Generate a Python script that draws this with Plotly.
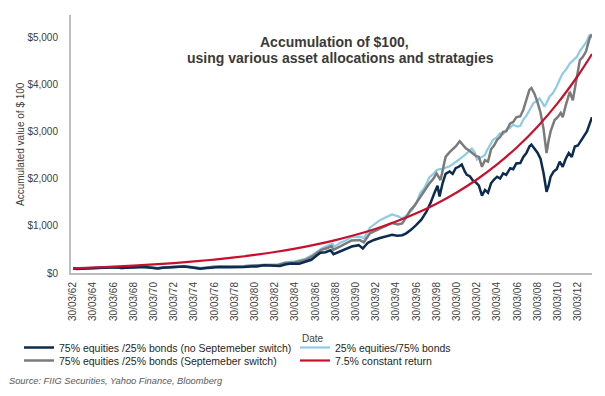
import plotly.graph_objects as go

# ---------------- data ----------------
tick_years = [1962, 1964, 1966, 1968, 1970, 1972, 1974, 1976, 1978, 1980, 1982, 1984, 1986,
              1988, 1990, 1992, 1994, 1996, 1998, 2000, 2002, 2004, 2006, 2008, 2010, 2012]
tick_labels = ["30/03/62", "30/03/64", "30/03/66", "30/03/68", "30/03/70", "30/03/72", "30/03/74",
               "30/03/76", "30/03/78", "30/03/80", "30/03/82", "30/03/84", "30/03/86", "30/03/88",
               "30/03/90", "30/03/92", "30/03/94", "30/03/96", "30/03/98", "30/03/00", "30/03/02",
               "30/03/04", "30/03/06", "30/03/08", "30/03/10", "30/03/12"]
y_tick_vals = [0, 1000, 2000, 3000, 4000, 5000]
y_tick_text = ["$0", "$1,000", "$2,000", "$3,000", "$4,000", "$5,000"]

navy_years = [1962.0, 1962.4, 1962.8, 1963.5, 1964.5, 1965.5, 1966.3, 1966.8, 1967.5, 1968.3, 1968.9,
              1969.6, 1970.4, 1970.9, 1971.5, 1972.5, 1973.0, 1973.8, 1974.6, 1975.0, 1975.6, 1976.5,
              1977.5, 1978.2, 1978.9, 1979.6, 1980.2, 1980.9, 1981.6, 1982.5, 1983.0, 1983.6, 1984.4,
              1985.0, 1985.6, 1986.2, 1986.5, 1987.0, 1987.5, 1987.8, 1988.4, 1989.0, 1989.6, 1990.3,
              1990.7, 1991.2, 1991.8, 1992.4, 1993.0, 1993.6, 1994.1, 1994.6, 1995.0, 1995.5, 1996.0,
              1996.5, 1997.0, 1997.4, 1997.8, 1998.1, 1998.3, 1998.6, 1998.9, 1999.3, 1999.6, 1999.9,
              2000.2, 2000.5, 2000.8, 2001.0, 2001.3, 2001.6, 2001.9, 2002.2, 2002.5, 2002.8, 2003.1,
              2003.4, 2003.7, 2004.0, 2004.3, 2004.6, 2004.9, 2005.3, 2005.6, 2005.9, 2006.3, 2006.6,
              2006.9, 2007.2, 2007.4, 2007.7, 2008.0, 2008.3, 2008.6, 2008.9, 2009.1, 2009.3, 2009.6,
              2009.9, 2010.2, 2010.5, 2010.8, 2011.1, 2011.4, 2011.7, 2012.0, 2012.3, 2012.6, 2012.9,
              2013.2, 2013.4]
navy_vals = [100, 85, 92, 100, 112, 120, 122, 106, 120, 122, 130,
             117, 98, 112, 122, 132, 138, 118, 92, 100, 115, 128,
             122, 118, 128, 138, 140, 162, 155, 148, 180, 200, 195,
             230, 280, 380, 430, 440, 480, 400, 450, 500, 560, 590,
             520, 640, 700, 740, 780, 810, 790, 800, 840, 920, 1020,
             1130, 1300, 1480, 1700, 1850, 1620, 1900, 2100, 2150, 2100, 2220,
             2250, 2300, 2150, 2080, 2050, 1960, 1920, 1850, 1640, 1760, 1700,
             1900, 1980, 2040, 2000, 2110, 2080, 2220, 2200, 2320, 2330, 2460,
             2540, 2680, 2720, 2640, 2550, 2420, 2120, 1720, 1850, 2040, 2150,
             2200, 2360, 2250, 2420, 2540, 2460, 2680, 2700, 2800, 2900, 3000,
             3180, 3300]

blue_years = [1962.0, 1962.5, 1963.5, 1964.5, 1965.5, 1966.5, 1967.5, 1968.5, 1969.5, 1970.4, 1971.0,
              1972.0, 1973.0, 1973.8, 1974.6, 1975.2, 1976.0, 1977.0, 1978.0, 1979.0, 1980.0, 1981.0,
              1982.3, 1983.0, 1984.0, 1985.0, 1985.6, 1986.2, 1986.7, 1987.3, 1987.7, 1987.9, 1988.4,
              1989.0, 1989.6, 1990.4, 1990.8, 1991.4, 1992.0, 1992.4, 1993.0, 1993.6, 1994.2, 1994.6,
              1995.2, 1995.6, 1996.0, 1996.4, 1996.8, 1997.3, 1997.7, 1998.0, 1998.3, 1998.6, 1999.0,
              1999.3, 1999.7, 2000.0, 2000.3, 2000.7, 2001.0, 2001.5, 2001.8, 2002.0, 2002.5, 2002.8,
              2003.0, 2003.3, 2003.6, 2004.0, 2004.3, 2004.6, 2004.9, 2005.3, 2005.6, 2006.0, 2006.3,
              2006.6, 2006.9, 2007.2, 2007.6, 2007.9, 2008.2, 2008.5, 2008.7, 2009.0, 2009.2, 2009.5,
              2009.9, 2010.2, 2010.5, 2010.8, 2011.2, 2011.5, 2011.9, 2012.2, 2012.5, 2012.8, 2013.0,
              2013.2, 2013.4]
blue_vals = [100, 92, 102, 112, 118, 112, 122, 130, 122, 110, 125,
             138, 145, 130, 108, 120, 140, 145, 142, 150, 165, 175,
             180, 225, 245, 300, 370, 460, 530, 590, 620, 560, 630,
             690, 760, 770, 740, 960, 1050, 1120, 1180, 1240, 1200, 1150,
             1250, 1340, 1480, 1700, 1800, 2030, 2100, 2180, 2200, 2200, 2240,
             2260, 2320, 2370, 2400, 2480, 2540, 2640, 2550, 2400, 2460, 2500,
             2600, 2700, 2820, 2880, 2960, 2940, 3030, 3080, 3140, 3100, 3120,
             3250, 3330, 3450, 3600, 3640, 3700, 3600, 3520, 3650, 3740, 3800,
             3950, 4100, 4230, 4300, 4440, 4500, 4580, 4700, 4790, 4880, 4970,
             5060, 4980]

grey_years = [1962.0, 1962.5, 1963.2, 1964.2, 1965.2, 1966.2, 1966.8, 1967.5, 1968.4, 1969.2, 1970.4,
              1971.0, 1972.0, 1973.0, 1973.8, 1974.6, 1975.2, 1976.0, 1977.0, 1978.0, 1979.0, 1980.0,
              1981.0, 1982.3, 1983.0, 1984.0, 1985.0, 1985.6, 1986.2, 1986.6, 1987.2, 1987.6, 1987.8,
              1988.4, 1989.0, 1989.6, 1990.4, 1990.8, 1991.4, 1992.0, 1992.4, 1993.0, 1993.6, 1994.2,
              1994.6, 1995.0, 1995.4, 1995.8, 1996.4, 1996.9, 1997.3, 1997.7, 1998.0, 1998.4, 1998.7,
              1998.9, 1999.3, 1999.6, 1999.9, 2000.3, 2000.6, 2000.9, 2001.2, 2001.6, 2001.9, 2002.2,
              2002.5, 2002.8, 2003.1, 2003.4, 2003.7, 2004.0, 2004.3, 2004.6, 2004.9, 2005.3, 2005.6,
              2005.9, 2006.3, 2006.6, 2006.9, 2007.2, 2007.4, 2007.7, 2008.0, 2008.3, 2008.6, 2008.9,
              2009.1, 2009.3, 2009.7, 2010.0, 2010.3, 2010.5, 2010.8, 2011.2, 2011.5, 2011.7, 2011.9,
              2012.2, 2012.5, 2012.8, 2013.0, 2013.2, 2013.4]
grey_vals = [100, 88, 98, 110, 118, 120, 108, 120, 128, 120, 102,
             118, 132, 140, 122, 98, 112, 132, 132, 130, 142, 158,
             170, 168, 210, 225, 275, 340, 430, 490, 530, 570, 490,
             560, 620, 690, 700, 650, 840, 900, 950, 1000, 1060, 1030,
             1050, 1180, 1330, 1420, 1620, 1760, 1900, 2000, 2110, 1970, 2300,
             2460, 2560, 2620, 2680, 2790, 2720, 2640, 2600, 2530, 2480, 2460,
             2250, 2390, 2360, 2620, 2700, 2820, 2880, 2990, 3000, 3170, 3200,
             3300, 3320, 3460, 3660, 3880, 3920, 3800, 3620, 3400, 3050, 2540,
             2800, 3000, 3240, 3300, 3390, 3300, 3550, 3840, 3660, 3900, 4090,
             4510, 4580, 4690, 4850, 5000, 5050]

red_years = [1962, 1964, 1966, 1968, 1970, 1972, 1974, 1976, 1978, 1980, 1982, 1984, 1986,
             1988, 1990, 1992, 1994, 1996, 1998, 2000, 2002, 2004, 2006, 2008, 2010, 2012, 2013.4]
red_vals = [100, 116, 135, 157, 182, 211, 245, 284, 330, 383, 445, 517, 600,
            697, 809, 939, 1090, 1265, 1469, 1706, 1981, 2300, 2670, 3100, 3599, 4179, 4640]

names = ["75% equities /25% bonds (no Septemeber switch)",
         "25% equities/75% bonds",
         "75% equities /25% bonds (Septemeber switch)",
         "7.5% constant return"]
colors = ["#0b2b50", "#8ecbe8", "#7b7b7b", "#c8102e"]

# ---------------- figure ----------------
# the page body adds an 8px offset; the figure is sized and positioned to compensate
OFF = 8
W, H = 605 - OFF, 396 - OFF
PLOT_L, PLOT_R, PLOT_T, PLOT_B = 71, 592, 15, 273  # plot box in reference pixels
L = PLOT_L - OFF
T = PLOT_T - OFF
R = W - (PLOT_R - OFF)
B = H - (PLOT_B - OFF)
FONT = "Arial, Liberation Sans, sans-serif"

fig = go.Figure()
# draw order: light blue, grey, navy, red
fig.add_trace(go.Scatter(x=blue_years, y=blue_vals, mode="lines", name=names[1],
                         line=dict(color=colors[1], width=2.2), legend="legend2"))
fig.add_trace(go.Scatter(x=grey_years, y=grey_vals, mode="lines", name=names[2],
                         line=dict(color=colors[2], width=2.5), legend="legend3"))
fig.add_trace(go.Scatter(x=navy_years, y=navy_vals, mode="lines", name=names[0],
                         line=dict(color=colors[0], width=2.5), legend="legend"))
fig.add_trace(go.Scatter(x=red_years, y=red_vals, mode="lines", name=names[3],
                         line=dict(color=colors[3], width=2.2, shape="spline"), legend="legend4"))


def px_x(px):
    # reference pixel -> paper fraction
    return (px - PLOT_L) / (PLOT_R - PLOT_L)


def px_y(py):
    return (PLOT_B - py) / (PLOT_B - PLOT_T)


def leg(x_px, y_px):
    return dict(xref="paper", yref="paper", x=px_x(x_px), y=px_y(y_px),
                xanchor="left", yanchor="middle", bgcolor="rgba(0,0,0,0)",
                font=dict(family=FONT, size=10.5, color="#262626"), itemwidth=30,
                tracegroupgap=0)


fig.update_layout(
    width=W, height=H,
    margin=dict(l=L, r=R, t=T, b=B, autoexpand=False),
    paper_bgcolor="white", plot_bgcolor="white",
    font=dict(family=FONT, size=10, color="#404040"),
    showlegend=True,
    legend=leg(19, 347.5),
    legend2=leg(295, 347.5),
    legend3=leg(19, 360.5),
    legend4=leg(295, 360.5),
    xaxis=dict(range=[1961.8, 2013.4], tickmode="array", tickvals=tick_years, ticktext=tick_labels,
               tickangle=-90, showgrid=False, zeroline=False, showline=True, linecolor="#bdbdbd",
               linewidth=2, ticks="", tickfont=dict(size=10, color="#404040"), ticklabelstandoff=3),
    yaxis=dict(range=[0, 5466], tickmode="array", tickvals=y_tick_vals, ticktext=y_tick_text,
               showgrid=False, zeroline=False, showline=True, linecolor="#bdbdbd", linewidth=2,
               ticks="", tickfont=dict(size=10, color="#404040"), ticklabelstandoff=9),
    annotations=[
        dict(text="<b>Accumulation of $100,</b>",
             xref="paper", yref="paper", x=px_x(334), y=px_y(42), xanchor="center", yanchor="middle",
             showarrow=False, font=dict(family=FONT, size=14, color="#3a3a3a")),
        dict(text="<b>using various asset allocations and stratagies</b>",
             xref="paper", yref="paper", x=px_x(340), y=px_y(58), xanchor="center", yanchor="middle",
             showarrow=False, font=dict(family=FONT, size=14, color="#3a3a3a")),
        dict(text="Accumulated value of $ 100", xref="paper", yref="paper", x=px_x(20), y=0.5,
             textangle=-90, xanchor="center", yanchor="middle", showarrow=False,
             font=dict(family=FONT, size=10, color="#404040")),
        dict(text="Date", xref="paper", yref="paper", x=px_x(313), y=px_y(338),
             xanchor="center", yanchor="middle", showarrow=False,
             font=dict(family=FONT, size=10, color="#404040")),
        dict(text="<i>Source: FIIG Securities, Yahoo Finance, Bloomberg</i>", xref="paper", yref="paper",
             x=px_x(7), y=px_y(381), xanchor="left", yanchor="middle", showarrow=False,
             font=dict(family=FONT, size=9.3, color="#595959")),
    ],
)

fig.write_html("out.html")
